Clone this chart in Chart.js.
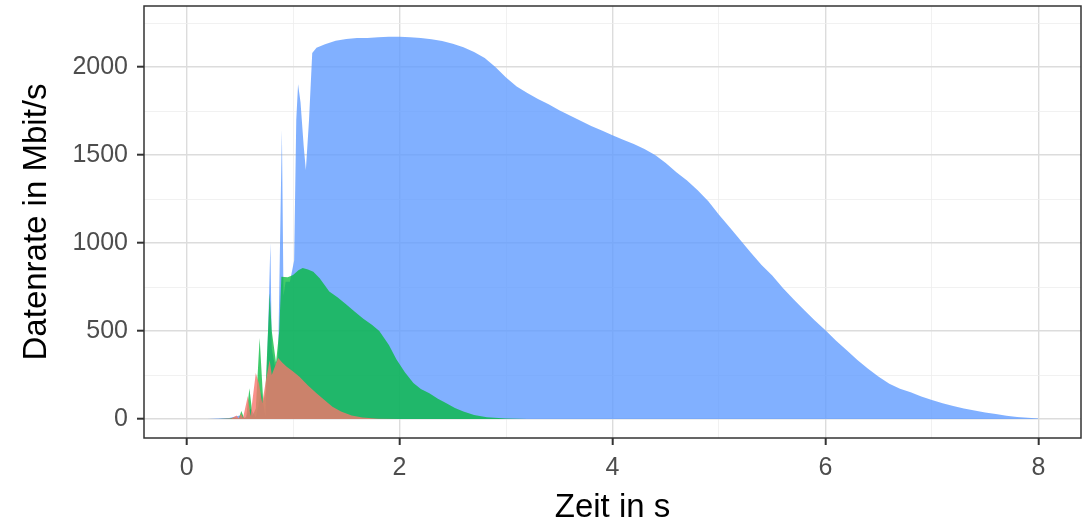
<!DOCTYPE html>
<html>
<head>
<meta charset="utf-8">
<script src="https://cdn.jsdelivr.net/npm/chart.js@4/dist/chart.umd.min.js"></script>
<style>
  html, body { margin: 0; padding: 0; background: #fff; }
  canvas { display: block; }
</style>
</head>
<body>
<canvas id="rateChart" width="1091" height="522"></canvas>
<script>
// ── Data ──────────────────────────────────────────────────────────────
const blueTime = [0.20, 0.40, 0.50, 0.55, 0.60, 0.65, 0.70, 0.74, 0.77, 0.787, 0.80, 0.83, 0.86, 0.895, 0.91, 0.93, 0.97, 1.01,
  1.03, 1.047, 1.07, 1.10, 1.12, 1.15, 1.18, 1.22, 1.30, 1.40, 1.50, 1.60, 1.70, 1.80, 1.90, 2.00, 2.10, 2.20, 2.30, 2.40,
  2.50, 2.60, 2.70, 2.80, 2.90, 3.00, 3.10, 3.20, 3.30, 3.40, 3.50, 3.60, 3.70, 3.80, 3.90, 4.00, 4.10, 4.20, 4.30, 4.40,
  4.50, 4.60, 4.70, 4.80, 4.90, 5.00, 5.10, 5.20, 5.30, 5.40, 5.50, 5.60, 5.70, 5.80, 5.90, 6.00, 6.10, 6.20, 6.30, 6.40,
  6.50, 6.60, 6.70, 6.80, 6.90, 7.00, 7.10, 7.20, 7.30, 7.40, 7.50, 7.60, 7.70, 7.80, 7.90, 8.00];
const blueRate = [0, 5, 20, 5, 60, 10, 150, 20, 600, 1002, 400, 300, 350, 1642, 700, 780, 780, 900,
  1700, 1902, 1800, 1550, 1415, 1700, 2080, 2110, 2130, 2150, 2160, 2165, 2165, 2170, 2172, 2172, 2170, 2165, 2158, 2148,
  2132, 2112, 2085, 2052, 2000, 1940, 1890, 1852, 1818, 1788, 1755, 1725, 1695, 1665, 1640, 1612, 1587, 1563, 1535, 1500,
  1455, 1402, 1355, 1300, 1238, 1160, 1090, 1017, 945, 875, 815, 745, 680, 620, 560, 505, 445, 390, 335, 285,
  240, 200, 172, 152, 128, 108, 90, 74, 60, 48, 37, 28, 19, 12, 7, 3];

const greenTime = [0.30, 0.40, 0.45, 0.49, 0.514, 0.54, 0.56, 0.59, 0.62, 0.65, 0.686, 0.72, 0.74, 0.78, 0.80, 0.84, 0.87,
  0.89, 0.95, 1.00, 1.05, 1.09, 1.14, 1.19, 1.25, 1.34, 1.42, 1.50, 1.58, 1.66, 1.74, 1.81, 1.90, 1.97, 2.05, 2.13, 2.20,
  2.28, 2.36, 2.44, 2.52, 2.60, 2.70, 2.82, 3.00, 3.20];
const greenRate = [0, 3, 8, 2, 45, 5, 10, 175, 20, 60, 460, 100, 150, 714, 500, 320, 500,
  809, 805, 818, 845, 858, 850, 837, 800, 725, 690, 650, 610, 570, 535, 500, 420, 340, 265, 205, 170,
  146, 115, 89, 62, 42, 22, 10, 3, 0];

const redTime = [0.30, 0.42, 0.47, 0.49, 0.51, 0.53, 0.575, 0.60, 0.65, 0.68, 0.71, 0.74, 0.78, 0.80, 0.86, 0.90, 0.94,
  1.00, 1.06, 1.14, 1.22, 1.30, 1.37, 1.45, 1.55, 1.65, 1.80, 2.00];
const redRate = [0, 3, 20, 3, 30, 5, 130, 15, 261, 200, 90, 200, 335, 250, 347, 320, 297,
  270, 240, 190, 146, 105, 70, 42, 20, 8, 2, 0];

const xTicks = [0, 1, 2, 3, 4, 5, 6, 7, 8];
const xLabelTicks = [0, 2, 4, 6, 8];
const yTicks = [0, 250, 500, 750, 1000, 1250, 1500, 1750, 2000, 2250];
const yLabelTicks = [0, 500, 1000, 1500, 2000];

// ── Helpers ───────────────────────────────────────────────────────────
const toPoints = (t, v) => t.map((x, i) => ({ x, y: v[i] }));
const isMajor = (list, v) => list.includes(v);

function area(label, t, v, color) {
  return { label, data: toPoints(t, v), backgroundColor: color, borderWidth: 0, pointRadius: 0, tension: 0, fill: 'origin' };
}

const panelBorder = {
  id: 'panelBorder',
  afterDatasetsDraw(chart) {
    const { ctx, chartArea: a } = chart;
    ctx.save();
    ctx.strokeStyle = '#333333';
    ctx.lineWidth = 1.5;
    ctx.strokeRect(a.left, a.top, a.right - a.left, a.bottom - a.top);
    ctx.restore();
  },
};

const tickFont = { family: '"Liberation Sans", Arial, sans-serif', size: 25 };
const titleFont = { family: '"Liberation Sans", Arial, sans-serif', size: 33, lineHeight: 1 };

function gridOpts(majors) {
  return {
    color: c => isMajor(majors, c.tick?.value) ? '#DCDCDC' : '#EEEEEE',
    lineWidth: c => isMajor(majors, c.tick?.value) ? 1.4 : 0.8,
    tickColor: c => isMajor(majors, c.tick?.value) ? '#333333' : 'rgba(0,0,0,0)',
    tickWidth: 2,
    tickLength: 7,
  };
}

new Chart(document.getElementById('rateChart').getContext('2d'), {
  type: 'line',
  data: {
    datasets: [
      area('rot', redTime, redRate, 'rgba(248,118,109,0.8)'),
      area('grün', greenTime, greenRate, 'rgba(0,186,56,0.75)'),
      area('blau', blueTime, blueRate, 'rgba(97,156,255,0.8)'),
    ],
  },
  options: {
    responsive: false,
    animation: false,
    layout: { padding: { left: 0, right: 10, top: 6, bottom: 0 } },
    plugins: { legend: { display: false }, tooltip: { enabled: false } },
    scales: {
      x: {
        type: 'linear',
        min: -0.4,
        max: 8.4,
        afterBuildTicks: ax => { ax.ticks = xTicks.map(value => ({ value })); },
        afterFit: ax => { ax.height = 84; ax.paddingLeft = 0; ax.paddingRight = 0; },
        grid: gridOpts(xLabelTicks),
        border: { display: false },
        ticks: {
          font: tickFont, color: '#4D4D4D', padding: 8, maxRotation: 0, autoSkip: false,
          callback: v => isMajor(xLabelTicks, v) ? String(v) : '',
        },
        title: { display: true, text: 'Zeit in s', color: '#000', font: titleFont, padding: { top: 0, bottom: -2.6 } },
      },
      y: {
        type: 'linear',
        min: -108,
        max: 2347,
        afterBuildTicks: ax => { ax.ticks = yTicks.map(value => ({ value })); },
        afterFit: ax => { ax.width = 144; ax.paddingTop = 0; ax.paddingBottom = 0; },
        grid: gridOpts(yLabelTicks),
        border: { display: false },
        ticks: {
          font: tickFont, color: '#4D4D4D', padding: 9, autoSkip: false,
          callback: v => isMajor(yLabelTicks, v) ? String(v) : '',
        },
        title: { display: true, text: 'Datenrate in Mbit/s', color: '#000', font: titleFont, padding: { top: 20.6, bottom: 0 } },
      },
    },
  },
  plugins: [panelBorder],
});
</script>
</body>
</html>
